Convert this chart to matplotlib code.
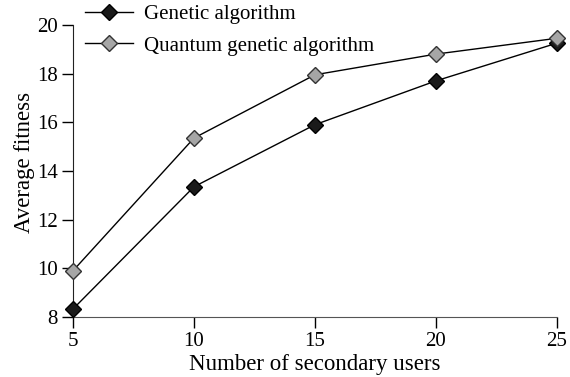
import matplotlib.pyplot as plt

users = [5, 10, 15, 20, 25]
genetic = [8.33, 13.35, 15.9, 17.7, 19.25]
quantum = [9.9, 15.35, 17.95, 18.8, 19.45]

plt.rcParams['font.family'] = 'Liberation Serif'
plt.rcParams['font.size'] = 15

fig = plt.figure(figsize=(5.7, 3.77), dpi=100)
ax = fig.add_axes([0.128, 0.159, 0.849, 0.775])

ax.plot(users, genetic, color='black', lw=1, marker='D', markersize=8,
        markerfacecolor='#1a1a1a', markeredgecolor='black', clip_on=False,
        label='Genetic algorithm', zorder=3)
ax.plot(users, quantum, color='black', lw=1, marker='D', markersize=8,
        markerfacecolor='#a6a6a6', markeredgecolor='#333333', clip_on=False,
        label='Quantum genetic algorithm', zorder=4)

ax.set_xlim(5, 25)
ax.set_ylim(8, 20)
ax.set_xticks(users)
ax.set_yticks([8, 10, 12, 14, 16, 18, 20])
ax.spines['top'].set_visible(False)
ax.spines['right'].set_visible(False)
ax.spines['left'].set_color('#222222')
ax.spines['bottom'].set_color('#555555')
ax.tick_params(direction='out', length=8, width=1, pad=3)
ax.set_xlabel('Number of secondary users', fontsize=16.5, labelpad=2)
ax.set_ylabel('Average fitness', fontsize=16.5, labelpad=0)
ax.yaxis.set_label_coords(-0.078, 0.53)

ax.legend(loc='upper left', bbox_to_anchor=(0.149, 0.987), bbox_transform=fig.transFigure,
          frameon=False, handlelength=2.3, handletextpad=0.55, labelspacing=0.55,
          borderaxespad=0, borderpad=0)

fig.savefig('out.png', dpi=100)
